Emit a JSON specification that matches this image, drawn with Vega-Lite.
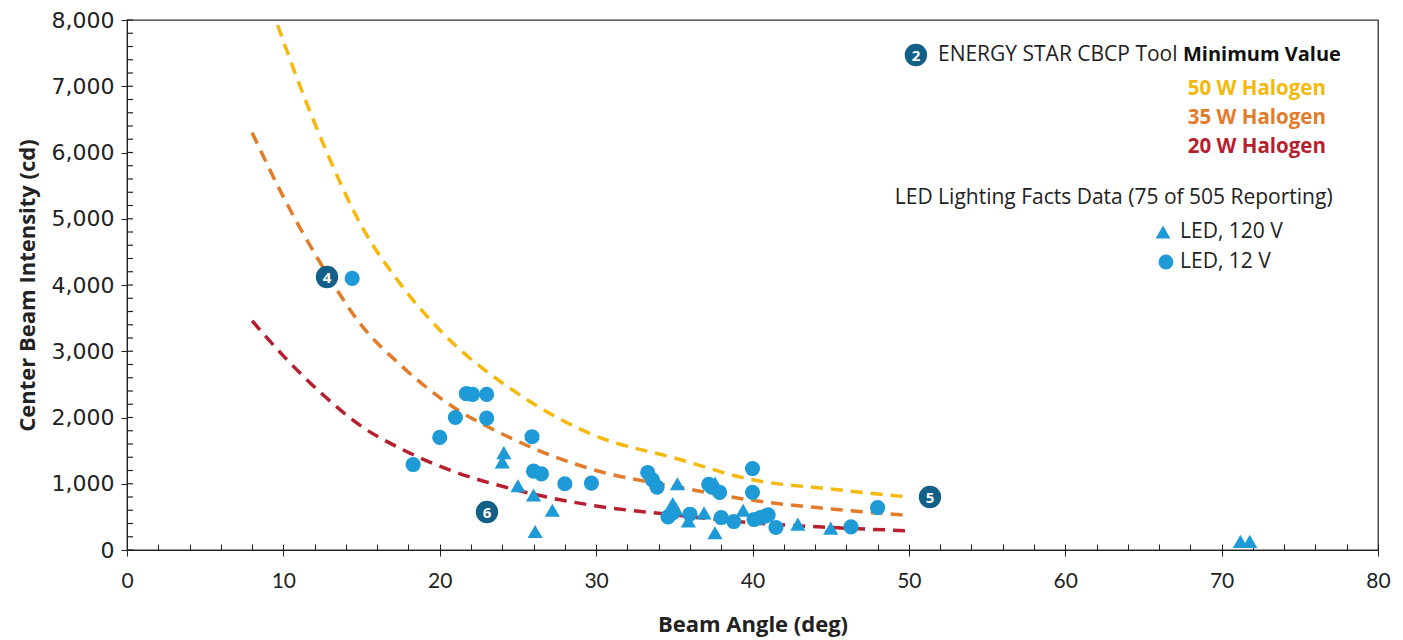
{
  "$schema": "https://vega.github.io/schema/vega-lite/v6.json",
  "width": 1251,
  "height": 530,
  "autosize": {"type": "none"},
  "padding": {"left": 127, "top": 20, "right": 25, "bottom": 90},
  "background": "white",
  "config": {
    "view": {"stroke": "#333", "strokeWidth": 1.3},
    "font": "Open Sans",
    "axis": {"grid": false}
  },
  "datasets": {
    "curves": [
      {"curve": "50 W Halogen", "angle": 8, "cd": 9070},
      {"curve": "50 W Halogen", "angle": 10, "cd": 7680},
      {"curve": "50 W Halogen", "angle": 12.5, "cd": 6160},
      {"curve": "50 W Halogen", "angle": 15, "cd": 4890},
      {"curve": "50 W Halogen", "angle": 17.5, "cd": 4010},
      {"curve": "50 W Halogen", "angle": 20, "cd": 3320},
      {"curve": "50 W Halogen", "angle": 25, "cd": 2360},
      {"curve": "50 W Halogen", "angle": 30, "cd": 1720},
      {"curve": "50 W Halogen", "angle": 35, "cd": 1390},
      {"curve": "50 W Halogen", "angle": 40, "cd": 1060},
      {"curve": "50 W Halogen", "angle": 45, "cd": 920},
      {"curve": "50 W Halogen", "angle": 50, "cd": 800},
      {"curve": "35 W Halogen", "angle": 8, "cd": 6300},
      {"curve": "35 W Halogen", "angle": 10, "cd": 5330},
      {"curve": "35 W Halogen", "angle": 12.5, "cd": 4280},
      {"curve": "35 W Halogen", "angle": 15, "cd": 3390},
      {"curve": "35 W Halogen", "angle": 17.5, "cd": 2790},
      {"curve": "35 W Halogen", "angle": 20, "cd": 2300},
      {"curve": "35 W Halogen", "angle": 25, "cd": 1640},
      {"curve": "35 W Halogen", "angle": 30, "cd": 1200},
      {"curve": "35 W Halogen", "angle": 35, "cd": 960},
      {"curve": "35 W Halogen", "angle": 40, "cd": 750},
      {"curve": "35 W Halogen", "angle": 45, "cd": 620},
      {"curve": "35 W Halogen", "angle": 50, "cd": 520},
      {"curve": "20 W Halogen", "angle": 8, "cd": 3460},
      {"curve": "20 W Halogen", "angle": 10, "cd": 2930},
      {"curve": "20 W Halogen", "angle": 12.5, "cd": 2350},
      {"curve": "20 W Halogen", "angle": 15, "cd": 1865},
      {"curve": "20 W Halogen", "angle": 17.5, "cd": 1530},
      {"curve": "20 W Halogen", "angle": 20, "cd": 1265},
      {"curve": "20 W Halogen", "angle": 25, "cd": 900},
      {"curve": "20 W Halogen", "angle": 30, "cd": 665},
      {"curve": "20 W Halogen", "angle": 35, "cd": 530},
      {"curve": "20 W Halogen", "angle": 40, "cd": 410},
      {"curve": "20 W Halogen", "angle": 45, "cd": 340},
      {"curve": "20 W Halogen", "angle": 50, "cd": 290}
    ],
    "leds": [
      {"type": "LED, 12 V", "angle": 14.4, "cd": 4100},
      {"type": "LED, 12 V", "angle": 18.3, "cd": 1290},
      {"type": "LED, 12 V", "angle": 20.0, "cd": 1700},
      {"type": "LED, 12 V", "angle": 21.0, "cd": 2000},
      {"type": "LED, 12 V", "angle": 21.7, "cd": 2360},
      {"type": "LED, 12 V", "angle": 22.1, "cd": 2350},
      {"type": "LED, 12 V", "angle": 23.0, "cd": 2350},
      {"type": "LED, 12 V", "angle": 23.0, "cd": 1990},
      {"type": "LED, 12 V", "angle": 25.9, "cd": 1710},
      {"type": "LED, 12 V", "angle": 26.0, "cd": 1190},
      {"type": "LED, 12 V", "angle": 26.5, "cd": 1150},
      {"type": "LED, 12 V", "angle": 28.0, "cd": 1000},
      {"type": "LED, 12 V", "angle": 29.7, "cd": 1010},
      {"type": "LED, 12 V", "angle": 33.3, "cd": 1170},
      {"type": "LED, 12 V", "angle": 33.6, "cd": 1060},
      {"type": "LED, 12 V", "angle": 33.9, "cd": 950},
      {"type": "LED, 12 V", "angle": 34.6, "cd": 500},
      {"type": "LED, 12 V", "angle": 34.9, "cd": 560},
      {"type": "LED, 12 V", "angle": 36.0, "cd": 540},
      {"type": "LED, 12 V", "angle": 37.2, "cd": 990},
      {"type": "LED, 12 V", "angle": 37.4, "cd": 950},
      {"type": "LED, 12 V", "angle": 37.9, "cd": 870},
      {"type": "LED, 12 V", "angle": 38.0, "cd": 490},
      {"type": "LED, 12 V", "angle": 38.8, "cd": 430},
      {"type": "LED, 12 V", "angle": 40.0, "cd": 1230},
      {"type": "LED, 12 V", "angle": 40.0, "cd": 870},
      {"type": "LED, 12 V", "angle": 40.1, "cd": 460},
      {"type": "LED, 12 V", "angle": 40.5, "cd": 490},
      {"type": "LED, 12 V", "angle": 40.8, "cd": 510},
      {"type": "LED, 12 V", "angle": 41.0, "cd": 530},
      {"type": "LED, 12 V", "angle": 41.5, "cd": 340},
      {"type": "LED, 12 V", "angle": 46.3, "cd": 350},
      {"type": "LED, 12 V", "angle": 48.0, "cd": 640},
      {"type": "LED, 120 V", "angle": 24.1, "cd": 1470},
      {"type": "LED, 120 V", "angle": 24.0, "cd": 1330},
      {"type": "LED, 120 V", "angle": 25.0, "cd": 970},
      {"type": "LED, 120 V", "angle": 26.0, "cd": 830},
      {"type": "LED, 120 V", "angle": 27.2, "cd": 600},
      {"type": "LED, 120 V", "angle": 26.1, "cd": 280},
      {"type": "LED, 120 V", "angle": 35.2, "cd": 1000},
      {"type": "LED, 120 V", "angle": 34.9, "cd": 700},
      {"type": "LED, 120 V", "angle": 35.1, "cd": 620},
      {"type": "LED, 120 V", "angle": 35.9, "cd": 440},
      {"type": "LED, 120 V", "angle": 36.9, "cd": 560},
      {"type": "LED, 120 V", "angle": 37.6, "cd": 260},
      {"type": "LED, 120 V", "angle": 37.6, "cd": 1010},
      {"type": "LED, 120 V", "angle": 39.4, "cd": 600},
      {"type": "LED, 120 V", "angle": 42.9, "cd": 390},
      {"type": "LED, 120 V", "angle": 45.0, "cd": 330},
      {"type": "LED, 120 V", "angle": 71.2, "cd": 130},
      {"type": "LED, 120 V", "angle": 71.8, "cd": 130}
    ],
    "legendSymbols": [
      {"type": "LED, 120 V", "angle": 66.25, "cd": 4800},
      {"type": "LED, 12 V", "angle": 66.44, "cd": 4347}
    ],
    "badges": [
      {"n": "2", "angle": 50.45, "cd": 7472},
      {"n": "4", "angle": 12.79, "cd": 4121},
      {"n": "5", "angle": 51.35, "cd": 800},
      {"n": "6", "angle": 23.02, "cd": 574}
    ],
    "plainText": [
      {"label": "ENERGY STAR CBCP Tool", "angle": 51.86, "cd": 7472},
      {"label": "LED Lighting Facts Data (75 of 505 Reporting)", "angle": 49.1, "cd": 5313},
      {"label": "LED, 120 V", "angle": 67.34, "cd": 4800},
      {"label": "LED, 12 V", "angle": 67.34, "cd": 4347}
    ],
    "boldText": [
      {"label": "Minimum Value", "angle": 77.63, "cd": 7472}
    ],
    "halogenText": [
      {"curve": "50 W Halogen", "angle": 76.67, "cd": 6958},
      {"curve": "35 W Halogen", "angle": 76.67, "cd": 6521},
      {"curve": "20 W Halogen", "angle": 76.67, "cd": 6083}
    ],
    "minorY": [
      {"cd": 0}, {"cd": 200}, {"cd": 400}, {"cd": 600}, {"cd": 800}, {"cd": 1000}, {"cd": 1200}, {"cd": 1400}, {"cd": 1600}, {"cd": 1800},
      {"cd": 2000}, {"cd": 2200}, {"cd": 2400}, {"cd": 2600}, {"cd": 2800}, {"cd": 3000}, {"cd": 3200}, {"cd": 3400}, {"cd": 3600}, {"cd": 3800},
      {"cd": 4000}, {"cd": 4200}, {"cd": 4400}, {"cd": 4600}, {"cd": 4800}, {"cd": 5000}, {"cd": 5200}, {"cd": 5400}, {"cd": 5600}, {"cd": 5800},
      {"cd": 6000}, {"cd": 6200}, {"cd": 6400}, {"cd": 6600}, {"cd": 6800}, {"cd": 7000}, {"cd": 7200}, {"cd": 7400}, {"cd": 7600}, {"cd": 7800}, {"cd": 8000}
    ]
  },
  "layer": [
    {
      "data": {"name": "curves"},
      "mark": {"type": "line", "strokeDash": [12, 8], "strokeWidth": 3.5, "interpolate": "monotone", "clip": true},
      "encoding": {
        "x": {"field": "angle", "type": "quantitative", "scale": {"domain": [0, 80], "nice": false},
          "axis": {"orient": "bottom", "values": [0, 10, 20, 30, 40, 50, 60, 70, 80], "tickSize": 6, "tickColor": "#222", "domainColor": "#222",
            "labelFont": "Liberation Sans Narrow, Lato", "labelFontSize": 21, "labelColor": "#222", "labelPadding": 14, "labelFlush": false,
            "title": "Beam Angle (deg)", "titleFont": "Open Sans", "titleFontSize": 22, "titleFontWeight": "bold", "titleColor": "#222", "titlePadding": 23}},
        "y": {"field": "cd", "type": "quantitative", "scale": {"domain": [0, 8000], "nice": false},
          "axis": {"orient": "left", "values": [0, 1000, 2000, 3000, 4000, 5000, 6000, 7000, 8000], "format": ",d", "tickSize": 6, "tickColor": "#222", "domainColor": "#222",
            "labelFont": "DejaVu Sans", "labelFontSize": 22, "labelColor": "#222", "labelPadding": 7, "labelFlush": false,
            "title": "Center Beam Intensity (cd)", "titleFont": "Open Sans", "titleFontSize": 22, "titleFontWeight": "bold", "titleColor": "#222", "titlePadding": 12}},
        "color": {"field": "curve", "type": "nominal", "legend": null,
          "scale": {"domain": ["50 W Halogen", "35 W Halogen", "20 W Halogen"], "range": ["#F5B80C", "#E27B2A", "#B81F2E"]}},
        "detail": {"field": "curve"}
      }
    },
    {
      "data": {"name": "minorY"},
      "mark": {"type": "tick", "orient": "horizontal", "size": 6, "thickness": 1.2, "xOffset": 3, "color": "#222", "opacity": 1},
      "encoding": {
        "x": {"datum": 0, "type": "quantitative", "axis": null},
        "y": {"field": "cd", "type": "quantitative", "axis": null}
      }
    },
    {
      "data": {"name": "leds"},
      "mark": {"type": "point", "filled": true, "opacity": 1, "color": "#1E9BD7", "size": 230},
      "encoding": {
        "x": {"field": "angle", "type": "quantitative",
          "axis": {"orient": "bottom", "offset": -6, "values": [0, 2, 4, 6, 8, 10, 12, 14, 16, 18, 20, 22, 24, 26, 28, 30, 32, 34, 36, 38, 40, 42, 44, 46, 48, 50, 52, 54, 56, 58, 60, 62, 64, 66, 68, 70, 72, 74, 76, 78, 80],
            "tickSize": 6, "tickColor": "#222", "labels": false, "domain": false, "title": null}},
        "y": {"field": "cd", "type": "quantitative", "axis": null},
        "shape": {"field": "type", "type": "nominal", "legend": null,
          "scale": {"domain": ["LED, 120 V", "LED, 12 V"], "range": ["triangle-up", "circle"]}}
      }
    },
    {
      "data": {"name": "legendSymbols"},
      "mark": {"type": "point", "filled": true, "opacity": 1, "color": "#1E9BD7", "size": 220},
      "encoding": {
        "x": {"field": "angle", "type": "quantitative", "axis": null},
        "y": {"field": "cd", "type": "quantitative", "axis": null},
        "shape": {"field": "type", "type": "nominal", "legend": null}
      }
    },
    {
      "data": {"name": "badges"},
      "mark": {"type": "point", "filled": true, "opacity": 1, "color": "#125F88", "size": 500},
      "encoding": {
        "x": {"field": "angle", "type": "quantitative", "axis": null},
        "y": {"field": "cd", "type": "quantitative", "axis": null}
      }
    },
    {
      "data": {"name": "badges"},
      "mark": {"type": "text", "color": "white", "fontSize": 15, "fontWeight": "bold", "font": "Open Sans", "align": "center", "baseline": "middle", "dy": 1},
      "encoding": {
        "x": {"field": "angle", "type": "quantitative", "axis": null},
        "y": {"field": "cd", "type": "quantitative", "axis": null},
        "text": {"field": "n"}
      }
    },
    {
      "data": {"name": "plainText"},
      "mark": {"type": "text", "color": "#222", "fontSize": 21, "font": "Open Sans", "align": "left", "baseline": "middle"},
      "encoding": {
        "x": {"field": "angle", "type": "quantitative", "axis": null},
        "y": {"field": "cd", "type": "quantitative", "axis": null},
        "text": {"field": "label"}
      }
    },
    {
      "data": {"name": "boldText"},
      "mark": {"type": "text", "color": "#111", "fontSize": 20, "fontWeight": "bold", "font": "Open Sans", "align": "right", "baseline": "middle"},
      "encoding": {
        "x": {"field": "angle", "type": "quantitative", "axis": null},
        "y": {"field": "cd", "type": "quantitative", "axis": null},
        "text": {"field": "label"}
      }
    },
    {
      "data": {"name": "halogenText"},
      "mark": {"type": "text", "fontSize": 20.5, "fontWeight": "bold", "font": "Open Sans", "align": "right", "baseline": "middle"},
      "encoding": {
        "x": {"field": "angle", "type": "quantitative", "axis": null},
        "y": {"field": "cd", "type": "quantitative", "axis": null},
        "text": {"field": "curve"},
        "color": {"field": "curve", "type": "nominal", "legend": null}
      }
    }
  ],
  "resolve": {"axis": {"x": "independent", "y": "independent"}}
}
